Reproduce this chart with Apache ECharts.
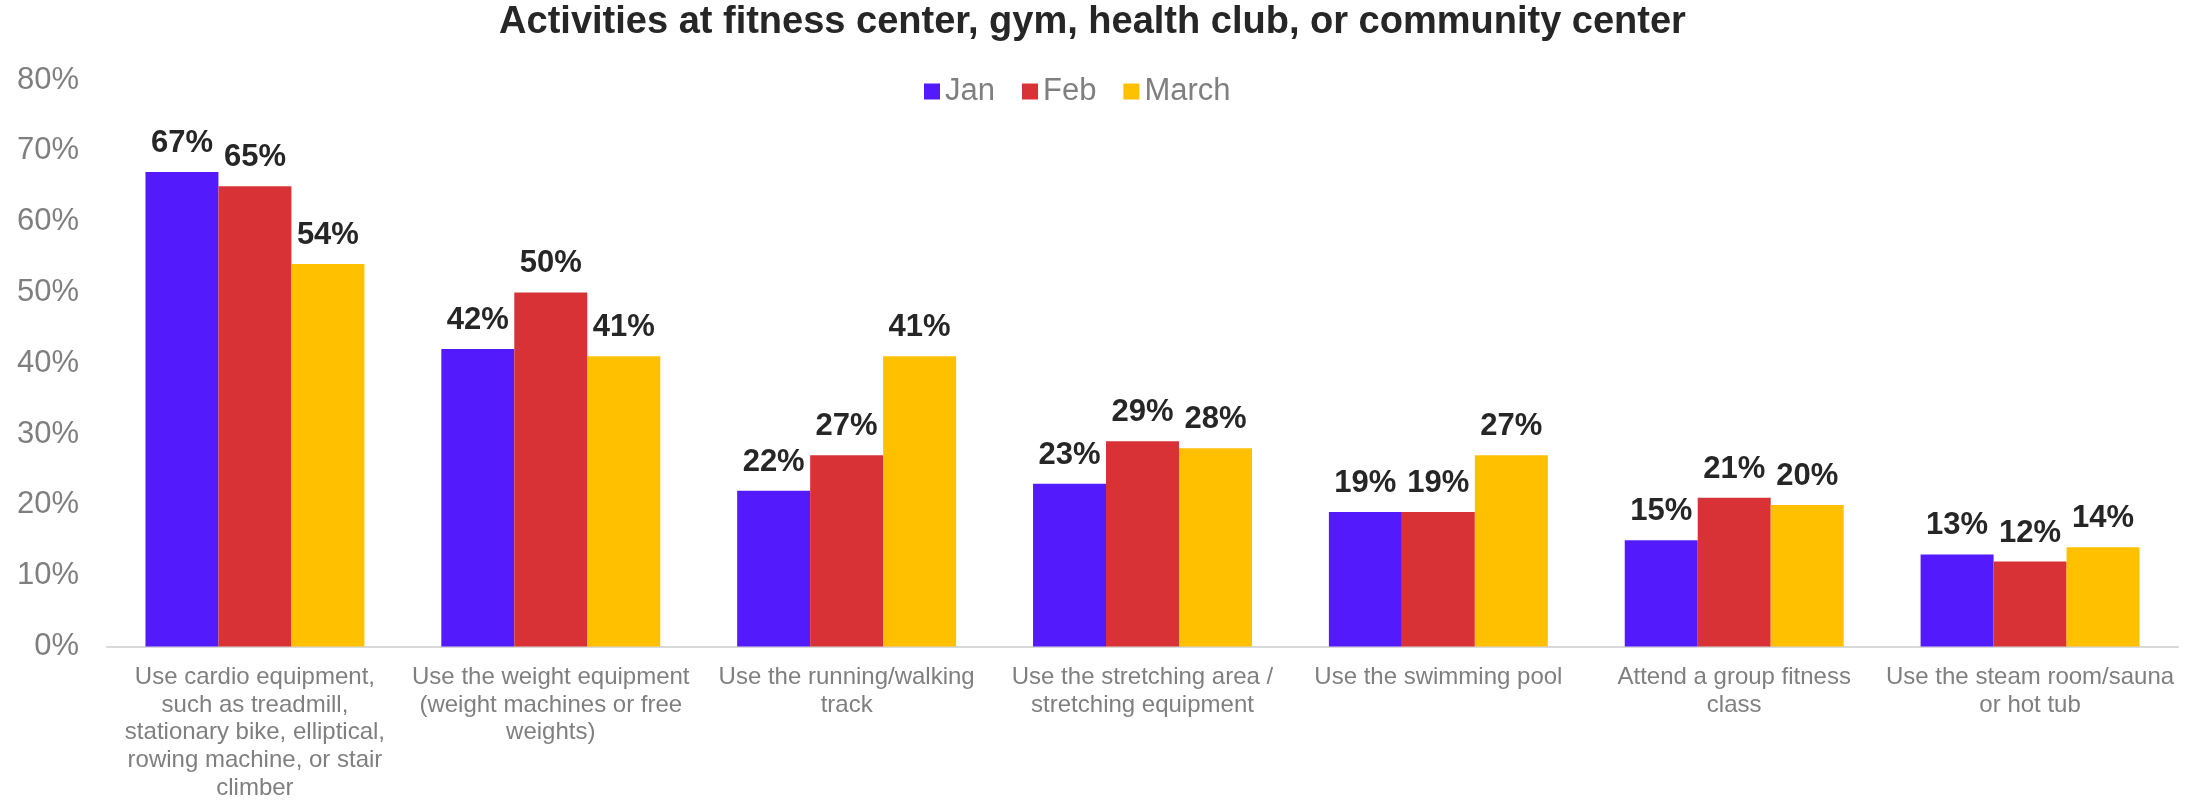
<!DOCTYPE html>
<html>
<head>
<meta charset="utf-8">
<title>Activities at fitness center, gym, health club, or community center</title>
<script src="https://cdn.jsdelivr.net/npm/echarts@6/dist/echarts.min.js"></script>
<style>
  html, body { margin: 0; padding: 0; background: #ffffff; }
  #chart { width: 2185px; height: 802px; }
</style>
</head>
<body>
<div id="chart"></div>
<script>
// Activity categories (line breaks as shown under the axis)
const categories = [
  'Use cardio equipment,\nsuch as treadmill,\nstationary bike, elliptical,\nrowing machine, or stair\nclimber',
  'Use the weight equipment\n(weight machines or free\nweights)',
  'Use the running/walking\ntrack',
  'Use the stretching area /\nstretching equipment',
  'Use the swimming pool',
  'Attend a group fitness\nclass',
  'Use the steam room/sauna\nor hot tub'
];

// Share of respondents (%) per month
const janValues = [67, 42, 22, 23, 19, 15, 13];
const febValues = [65, 50, 27, 29, 19, 21, 12];
const marchValues = [54, 41, 41, 28, 27, 20, 14];

const seriesNames = ['Jan', 'Feb', 'March'];
const seriesColors = ['#531bfb', '#d83236', '#ffc000'];

const FONT = "'Liberation Sans', Arial, Helvetica, sans-serif";

const chart = echarts.init(document.getElementById('chart'), null, { renderer: 'canvas' });

function makeSeries(name, data, color) {
  return {
    name: name,
    type: 'bar',
    data: data,
    barGap: '0%',
    barCategoryGap: '26%',
    itemStyle: { color: color },
    label: {
      show: true,
      position: 'top',
      distance: 13,
      formatter: '{c}%',
      fontFamily: FONT,
      fontSize: 31,
      fontWeight: 'bold',
      color: '#262626'
    },
    emphasis: { disabled: true }
  };
}

chart.setOption({
  animation: false,
  backgroundColor: '#ffffff',
  textStyle: { fontFamily: FONT },
  title: {
    text: 'Activities at fitness center, gym, health club, or community center',
    left: 'center',
    top: 4,
    padding: 0,
    textStyle: {
      fontFamily: FONT,
      fontSize: 38,
      fontWeight: 'bold',
      color: '#262626'
    }
  },
  legend: {
    data: seriesNames,
    left: 924,
    top: 76,
    padding: 0,
    icon: 'rect',
    itemWidth: 16,
    itemHeight: 16,
    itemGap: 27,
    textStyle: {
      fontFamily: FONT,
      fontSize: 31,
      lineHeight: 30,
      color: '#7f7f7f'
    }
  },
  grid: {
    left: 107,
    right: 7,
    top: 80,
    bottom: 150,
    containLabel: false
  },
  xAxis: {
    type: 'category',
    data: categories,
    axisTick: { show: false },
    axisLine: { show: true, lineStyle: { color: '#d9d9d9', width: 2 } },
    axisLabel: {
      interval: 0,
      margin: 17,
      fontFamily: FONT,
      fontSize: 24,
      lineHeight: 27.7,
      color: '#7f7f7f',
      align: 'center'
    }
  },
  yAxis: {
    type: 'value',
    min: 0,
    max: 80,
    interval: 10,
    splitLine: { show: false },
    axisLine: { show: false },
    axisTick: { show: false },
    axisLabel: {
      formatter: '{value}%',
      margin: 28,
      fontFamily: FONT,
      fontSize: 31,
      color: '#7f7f7f'
    }
  },
  series: [
    makeSeries(seriesNames[0], janValues, seriesColors[0]),
    makeSeries(seriesNames[1], febValues, seriesColors[1]),
    makeSeries(seriesNames[2], marchValues, seriesColors[2])
  ]
});
</script>
</body>
</html>
